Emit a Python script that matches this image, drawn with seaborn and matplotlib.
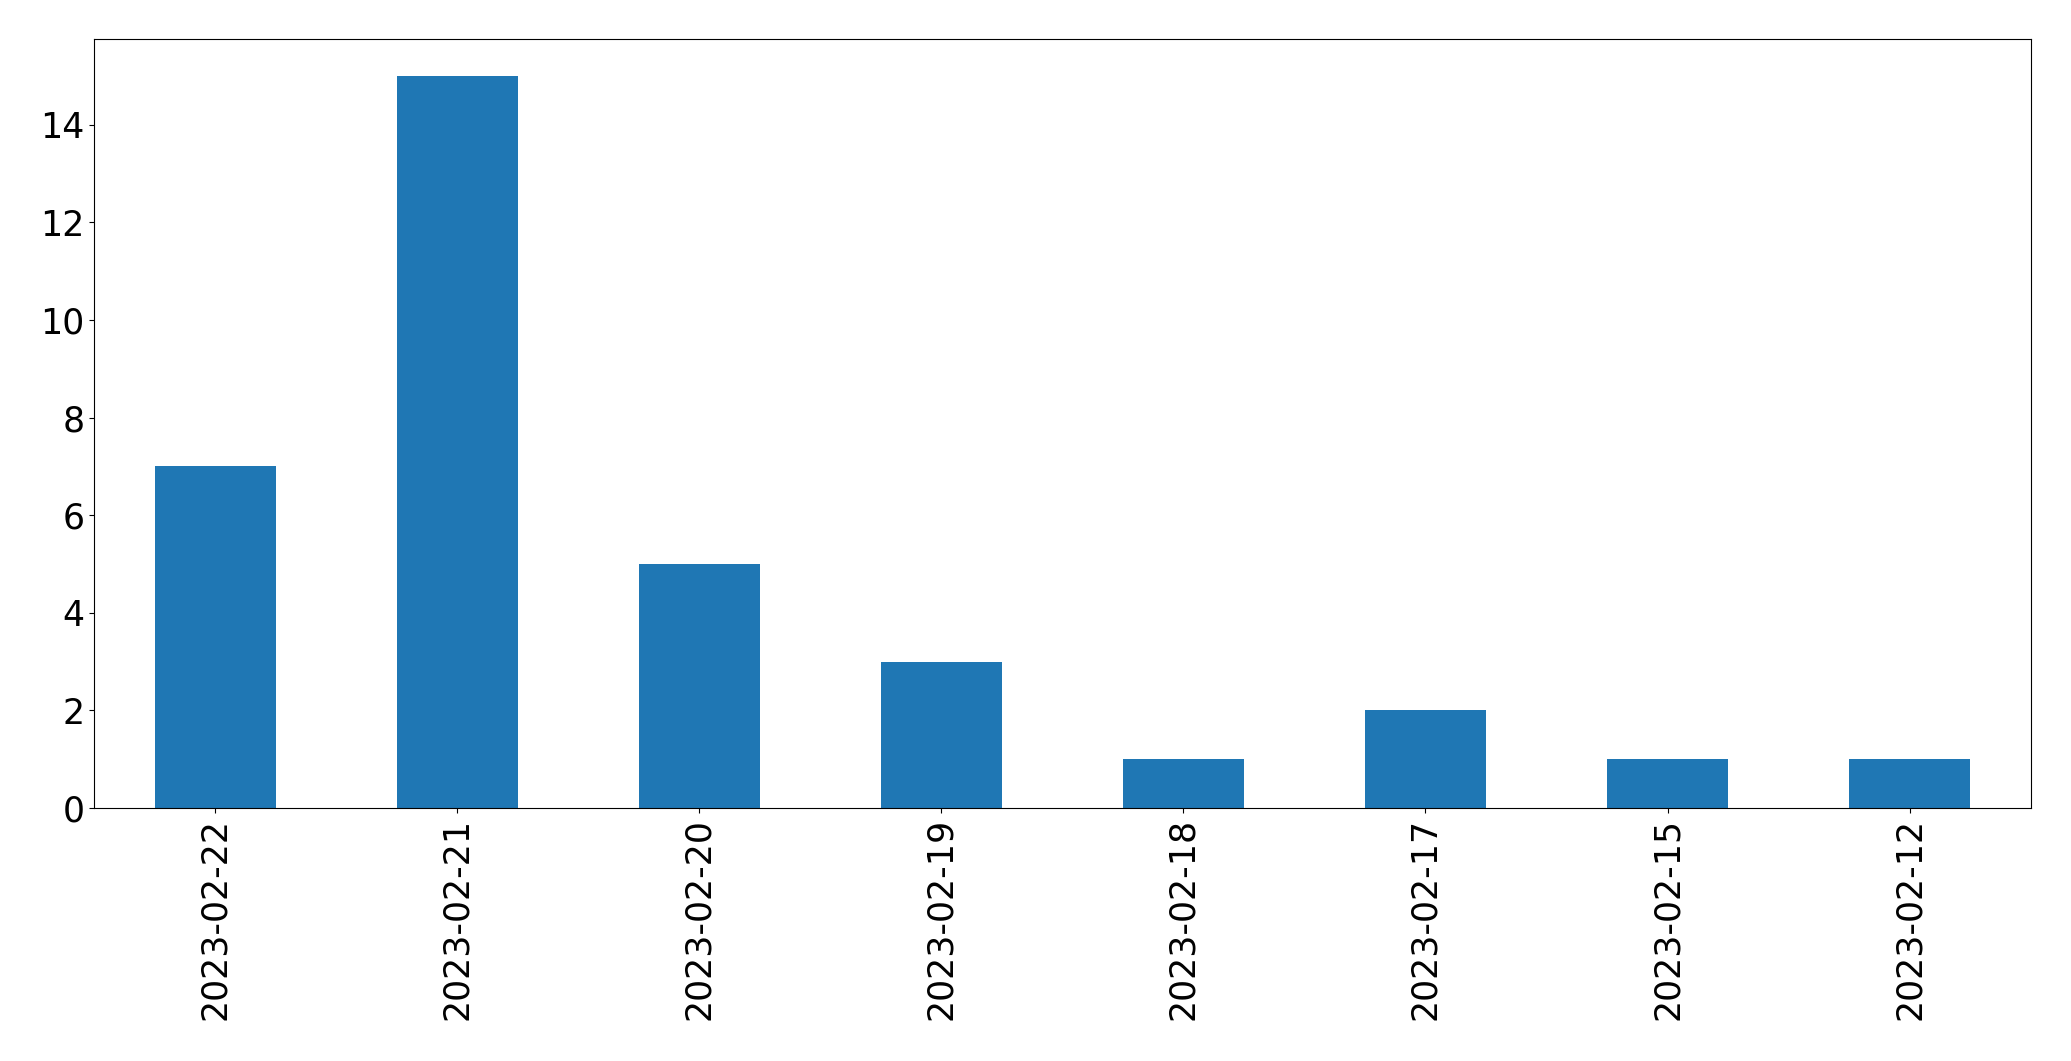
import pandas as pd
import matplotlib
matplotlib.use("Agg")
import matplotlib.pyplot as plt
import seaborn as sns

# counts per day
dates = ["2023-02-22", "2023-02-21", "2023-02-20", "2023-02-19",
         "2023-02-18", "2023-02-17", "2023-02-15", "2023-02-12"]
counts = [7, 15, 5, 3, 1, 2, 1, 1]

data = pd.DataFrame({"date": dates, "count": counts})

fig = plt.figure(figsize=(20.71, 10.61), dpi=100)
ax = fig.add_axes([0.0455, 0.2385, 0.935, 0.7245])
sns.barplot(data=data, x="date", y="count", color="#1f77b4",
            saturation=1, width=0.5, linewidth=0, ax=ax)
ax.set_xlim(-0.5, len(dates) - 0.5)
ax.set_ylim(0, 15.75)
ax.set_xlabel("")
ax.set_ylabel("")
ax.tick_params(axis="x", labelrotation=90, labelsize=25)
ax.tick_params(axis="y", labelsize=25)
for s in ax.spines.values():
    s.set_visible(True)
    s.set_color("black")
plt.savefig("out.png", dpi=100)
